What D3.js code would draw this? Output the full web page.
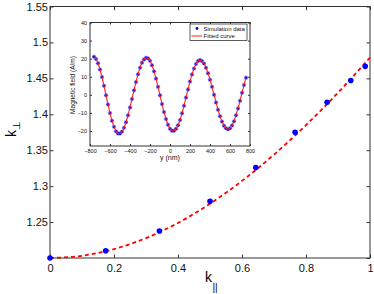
<!DOCTYPE html>
<html><head><meta charset="utf-8">
<script src="https://cdn.jsdelivr.net/npm/d3@7"></script>
<style>body{margin:0;background:#fff}svg{display:block}text{font-family:"Liberation Sans",Arial,sans-serif}</style>
</head><body><svg id="c" width="374" height="294"></svg>
<script>
// Main plot data
const kPar = [0, 0.174, 0.342, 0.5, 0.643, 0.766, 0.866, 0.940, 0.985];
const kPerp = [1.200, 1.210, 1.2375, 1.279, 1.326, 1.375, 1.4167, 1.447, 1.4667];
const fitX = [0, 0.1, 0.2, 0.3, 0.4, 0.5, 0.6, 0.7, 0.8, 0.9, 1.0];
const fitY = [1.200, 1.2031, 1.2124, 1.2277, 1.2488, 1.2755, 1.3073, 1.3439, 1.3849, 1.4301, 1.479];
const mainXTicks = [0, 0.2, 0.4, 0.6, 0.8, 1];
const mainYTicks = [1.2, 1.25, 1.3, 1.35, 1.4, 1.45, 1.5, 1.55];

// Inset data
const insetY = [-760,-740,-720,-700,-680,-660,-640,-620,-600,-580,-560,-540,-520,
 -500,-480,-460,-440,-420,-400,-380,-360,-340,-320,-300,-280,-260,-240,
 -220,-200,-180,-160,-140,-120,-100,-80,-60,-40,-20,0,20,
 40,60,80,100,120,140,160,180,200,220,240,260,280,300,
 320,340,360,380,400,420,440,460,480,500,520,540,560,580,
 600,620,640,660,680,700,720,740,760];
const insetH = [21.0,19.8,17.4,14.0,9.8,5.0,-0.2,-5.3,-10.1,-14.3,-17.7,-20.1,-21.35,
 -21.4,-20.3,-18.2,-15.1,-11.3,-7.0,-2.3,2.5,7.1,11.4,15.0,17.8,19.6,20.5,
 20.2,18.8,16.4,13.0,9.0,4.4,-0.3,-5.1,-9.5,-13.4,-16.5,-18.7,-19.9,
 -19.9,-18.8,-16.8,-13.9,-10.2,-6.0,-1.5,3.0,7.4,11.3,14.6,17.1,18.7,19.2,
 18.7,17.3,15.0,12.0,8.4,4.4,0.1,-4.2,-8.2,-11.8,-14.8,-17.1,-18.5,-19.0,
 -18.5,-17.0,-14.6,-11.3,-7.5,-3.3,1.1,5.5,9.5];
const insetXTicks = [-800,-600,-400,-200,0,200,400,600,800];
const insetYTicks = [-20,-10,0,10,20,30,40];
const legendLabels = ["Simulation data", "Fitted curve"];

const svg = d3.select("#c");
const axisCol = "#333";

// main scales
const x = d3.scaleLinear().domain([0, 1]).range([50, 370]);
const y = d3.scaleLinear().domain([1.2, 1.55]).range([258, 6.5]);

function boxAxes(g, xs, ys, xt, yt, tl, fs, fmtX, fmtY, xLabOff, yLabOff) {
  const [x0, x1] = xs.range(), [y0, y1] = ys.range();
  g.append("rect").attr("x", x0).attr("y", y1).attr("width", x1 - x0).attr("height", y0 - y1)
    .attr("fill", "#fff").attr("stroke", axisCol).attr("stroke-width", 1);
  g.append("g").attr("transform", `translate(0,${y0})`)
    .call(d3.axisBottom(xs).tickValues(xt).tickSize(-tl).tickPadding(xLabOff).tickFormat(fmtX))
    .call(a => { a.select(".domain").remove(); a.selectAll("line").attr("stroke", axisCol);
      a.selectAll("text").attr("font-size", fs).attr("fill", "#111").attr("font-family", '"Liberation Sans",Arial,sans-serif'); });
  g.append("g").attr("transform", `translate(0,${y1})`)
    .call(d3.axisTop(xs).tickValues(xt).tickSize(-tl).tickFormat(""))
    .call(a => { a.select(".domain").remove(); a.selectAll("line").attr("stroke", axisCol); });
  g.append("g").attr("transform", `translate(${x0},0)`)
    .call(d3.axisLeft(ys).tickValues(yt).tickSize(-tl).tickPadding(yLabOff).tickFormat(fmtY))
    .call(a => { a.select(".domain").remove(); a.selectAll("line").attr("stroke", axisCol);
      a.selectAll("text").attr("font-size", fs).attr("fill", "#111").attr("font-family", '"Liberation Sans",Arial,sans-serif'); });
  g.append("g").attr("transform", `translate(${x1},0)`)
    .call(d3.axisRight(ys).tickValues(yt).tickSize(-tl).tickFormat(""))
    .call(a => { a.select(".domain").remove(); a.selectAll("line").attr("stroke", axisCol); });
}

const gm = svg.append("g");
boxAxes(gm, x, y, mainXTicks, mainYTicks, 3.5, 11, d => d3.format("")(d), d => d === 1.2 ? "" : d3.format("")(d), 6, 2);

// fitted dashed curve
const fitLine = d3.line().x(d => x(d[0])).y(d => y(d[1])).curve(d3.curveMonotoneX);
gm.append("path").datum(fitX.map((v, i) => [v, fitY[i]]))
  .attr("d", fitLine).attr("fill", "none").attr("stroke", "#ff0000")
  .attr("stroke-width", 1.8).attr("stroke-dasharray", "4,3");
gm.selectAll("circle.pt").data(kPar.map((v, i) => [v, kPerp[i]])).enter().append("circle")
  .attr("cx", d => x(d[0])).attr("cy", d => y(d[1])).attr("r", 2.8).attr("fill", "#0000ff");

// axis labels
gm.append("text").attr("x", 205).attr("y", 282).attr("font-size", 14).attr("fill", "#000").text("k");
gm.append("text").attr("x", 212.5).attr("y", 291).attr("font-size", 10).attr("fill", "#000").text("||");
const yl = gm.append("g").attr("transform", "translate(16,137) rotate(-90)");
yl.append("text").attr("x", 0).attr("y", 0).attr("font-size", 14).attr("fill", "#000").text("k");
yl.append("text").attr("x", 7).attr("y", 4).attr("font-size", 10).attr("fill", "#000").text("⊥");

// inset
const ix = d3.scaleLinear().domain([-800, 800]).range([90, 250]);
const iy = d3.scaleLinear().domain([-28.3, 40]).range([146, 22.5]);
const gi = svg.append("g");
boxAxes(gi, ix, iy, insetXTicks, insetYTicks, 2, 5.5, d => d3.format("")(d).replace("-", "\u2212"), d => d3.format("")(d).replace("-", "\u2212"), 3, 3);

const iline = d3.line().x(d => ix(d[0])).y(d => iy(d[1])).curve(d3.curveCatmullRom);
const ipts = insetY.map((v, i) => [v, insetH[i]]);
gi.selectAll("circle.ip").data(ipts).enter().append("circle")
  .attr("cx", d => ix(d[0])).attr("cy", d => iy(d[1])).attr("r", 2.3).attr("fill", "#8888ff").attr("opacity", 0.6);
gi.selectAll("circle.ip2").data(ipts).enter().append("circle")
  .attr("cx", d => ix(d[0])).attr("cy", d => iy(d[1])).attr("r", 1.5).attr("fill", "#0000ee");
gi.append("path").datum(ipts).attr("d", iline).attr("fill", "none").attr("stroke", "#ff2020").attr("stroke-width", 1.1);

gi.append("text").attr("x", 170).attr("y", 160).attr("text-anchor", "middle").attr("font-size", 7).attr("fill", "#111").text("y (nm)");
gi.append("text").attr("transform", "translate(75,85) rotate(-90)").attr("text-anchor", "middle").attr("font-size", 6.5).attr("fill", "#111").text("Magnetic field (A/m)");

// legend
const lg = gi.append("g");
lg.append("rect").attr("x", 190).attr("y", 24).attr("width", 57).attr("height", 16.5).attr("fill", "#fff").attr("stroke", axisCol).attr("stroke-width", 0.8);
lg.append("circle").attr("cx", 197).attr("cy", 28.5).attr("r", 1.4).attr("fill", "#0000ee");
lg.append("line").attr("x1", 191.5).attr("x2", 202).attr("y1", 36).attr("y2", 36).attr("stroke", "#ff2020").attr("stroke-width", 1);
lg.selectAll("text.l").data(legendLabels).enter().append("text")
  .attr("x", 203.5).attr("y", (d, i) => 30.5 + i * 7).attr("font-size", 6).attr("fill", "#111").text(d => d);
</script></body></html>
